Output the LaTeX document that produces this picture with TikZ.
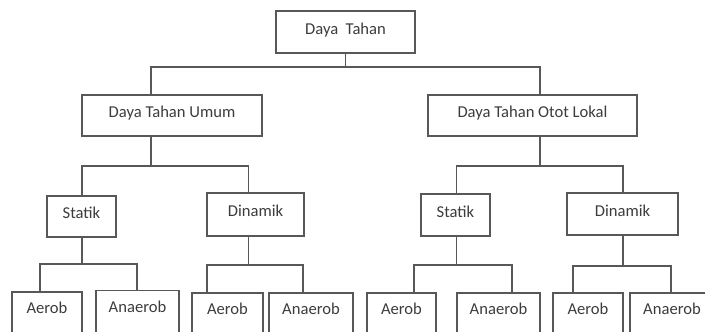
\documentclass[tikz,border=0pt]{standalone}
\usepackage{fontspec}
\setmainfont{Carlito}
\definecolor{linegray}{RGB}{88,88,88}
\definecolor{textgray}{RGB}{60,60,60}
\tikzset{
  box/.style={draw=linegray, line width=1.2pt, rectangle, inner sep=0pt,
    text=textgray, font=\fontsize{16.6}{20}\selectfont,
    text height=11pt, text depth=7pt},
  leafbox/.style={box, minimum height=44pt, text depth=12pt},
  conn/.style={draw=linegray, line width=1.2pt}
}
\begin{document}
\begin{tikzpicture}[x=1pt,y=-1pt]
\useasboundingbox (0,0) rectangle (705,333);
\clip (0,0) rectangle (705,331);
% level 0
\node[box, minimum width=139pt, minimum height=42pt] (top) at (345.5,32) {Daya\ \ Tahan};
% level 1
\node[box, minimum width=180pt, minimum height=41pt] (umum) at (172,115.5) {Daya Tahan Umum};
\node[box, minimum width=209pt, minimum height=41pt] (lokal) at (532.5,115.5) {Daya Tahan Otot Lokal};
% level 2
\node[box, minimum width=69pt, minimum height=41pt] (statikL) at (81.5,216.5) {Statik};
\node[box, minimum width=97pt, minimum height=43pt] (dinamikL) at (255.5,214.5) {Dinamik};
\node[box, minimum width=69pt, minimum height=42pt] (statikR) at (455.5,215) {Statik};
\node[box, minimum width=111pt, minimum height=42pt] (dinamikR) at (622.5,214) {Dinamik};
% leaves
\node[leafbox, minimum width=70pt] (a1) at (47,314) {Aerob};
\node[leafbox, minimum width=83pt] (n1) at (137.5,312.5) {Anaerob};
\node[leafbox, minimum width=71pt] (a2) at (227.5,315) {Aerob};
\node[leafbox, minimum width=84pt] (n2) at (311,315) {Anaerob};
\node[leafbox, minimum width=69pt] (a3) at (401.5,315) {Aerob};
\node[leafbox, minimum width=83pt] (n3) at (498.5,315) {Anaerob};
\node[leafbox, minimum width=70pt] (a4) at (588,315) {Aerob};
\node[leafbox, minimum width=84pt] (n4) at (672,315) {Anaerob};
% bar coordinates
\coordinate (b0l) at (151,67);   \coordinate (b0r) at (540,67);
\coordinate (b1l) at (82,166);   \coordinate (b1r) at (248.5,166);
\coordinate (b2l) at (456.5,166);\coordinate (b2r) at (623,166);
\coordinate (b3l) at (40,264);   \coordinate (b3r) at (137,264);
\coordinate (b4l) at (207,265);  \coordinate (b4r) at (303,265);
\coordinate (b5l) at (414,265);  \coordinate (b5r) at (512,265);
\coordinate (b6l) at (573,266);  \coordinate (b6r) at (671,266);
% connectors
\draw[conn] (top.south) -- (top.south |- b0l);
\draw[conn] (umum.north -| b0l) -- (b0l) -- (b0r) -- (lokal.north -| b0r);
\draw[conn] (umum.south -| b0l) -- (b0l |- b1l);
\draw[conn] (statikL.north -| b1l) -- (b1l) -- (b1r) -- (dinamikL.north -| b1r);
\draw[conn] (lokal.south -| b0r) -- (b0r |- b2l);
\draw[conn] (statikR.north -| b2l) -- (b2l) -- (b2r) -- (dinamikR.north -| b2r);
\draw[conn] (statikL.south -| b1l) -- (b1l |- b3l);
\draw[conn] (a1.north -| b3l) -- (b3l) -- (b3r) -- (n1.north -| b3r);
\draw[conn] (dinamikL.south -| b1r) -- (b1r |- b4l);
\draw[conn] (a2.north -| b4l) -- (b4l) -- (b4r) -- (n2.north -| b4r);
\draw[conn] (statikR.south -| b2l) -- (b2l |- b5l);
\draw[conn] (a3.north -| b5l) -- (b5l) -- (b5r) -- (n3.north -| b5r);
\draw[conn] (dinamikR.south -| b2r) -- (b2r |- b6l);
\draw[conn] (a4.north -| b6l) -- (b6l) -- (b6r) -- (n4.north -| b6r);
\end{tikzpicture}
\end{document}
